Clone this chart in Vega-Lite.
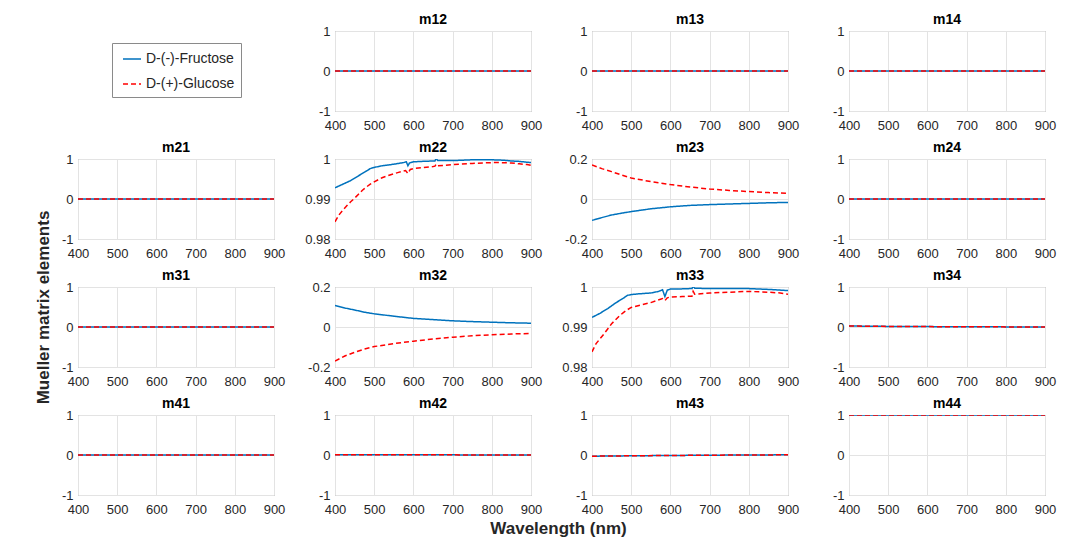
{
"$schema":"https://vega.github.io/schema/vega-lite/v6.json",
"autosize":{"type":"none"},
"padding":{"left":78,"top":31,"right":1002,"bottom":513},
"background":"#ffffff",
"bounds":"flush",
"columns":4,
"spacing":{"row":48,"column":61},
"data":{"values":[
{"p":"m12","w":400,"v":0,"s":"D-(-)-Fructose"},{"p":"m12","w":900,"v":0,"s":"D-(-)-Fructose"},
{"p":"m12","w":400,"v":0,"s":"D-(+)-Glucose"},{"p":"m12","w":900,"v":0,"s":"D-(+)-Glucose"},
{"p":"m13","w":400,"v":0,"s":"D-(-)-Fructose"},{"p":"m13","w":900,"v":0,"s":"D-(-)-Fructose"},
{"p":"m13","w":400,"v":0,"s":"D-(+)-Glucose"},{"p":"m13","w":900,"v":0,"s":"D-(+)-Glucose"},
{"p":"m14","w":400,"v":0,"s":"D-(-)-Fructose"},{"p":"m14","w":900,"v":0,"s":"D-(-)-Fructose"},
{"p":"m14","w":400,"v":0,"s":"D-(+)-Glucose"},{"p":"m14","w":900,"v":0,"s":"D-(+)-Glucose"},
{"p":"m21","w":400,"v":0,"s":"D-(-)-Fructose"},{"p":"m21","w":900,"v":0,"s":"D-(-)-Fructose"},
{"p":"m21","w":400,"v":0,"s":"D-(+)-Glucose"},{"p":"m21","w":900,"v":0,"s":"D-(+)-Glucose"},
{"p":"m24","w":400,"v":0,"s":"D-(-)-Fructose"},{"p":"m24","w":900,"v":0,"s":"D-(-)-Fructose"},
{"p":"m24","w":400,"v":0,"s":"D-(+)-Glucose"},{"p":"m24","w":900,"v":0,"s":"D-(+)-Glucose"},
{"p":"m31","w":400,"v":0,"s":"D-(-)-Fructose"},{"p":"m31","w":900,"v":0,"s":"D-(-)-Fructose"},
{"p":"m31","w":400,"v":0,"s":"D-(+)-Glucose"},{"p":"m31","w":900,"v":0,"s":"D-(+)-Glucose"},
{"p":"m41","w":400,"v":0,"s":"D-(-)-Fructose"},{"p":"m41","w":900,"v":0,"s":"D-(-)-Fructose"},
{"p":"m41","w":400,"v":0,"s":"D-(+)-Glucose"},{"p":"m41","w":900,"v":0,"s":"D-(+)-Glucose"},
{"p":"m42","w":400,"v":0.005,"s":"D-(-)-Fructose"},{"p":"m42","w":900,"v":0.002,"s":"D-(-)-Fructose"},
{"p":"m42","w":400,"v":0.005,"s":"D-(+)-Glucose"},{"p":"m42","w":900,"v":0.002,"s":"D-(+)-Glucose"},
{"p":"m44","w":400,"v":1,"s":"D-(-)-Fructose"},{"p":"m44","w":900,"v":1,"s":"D-(-)-Fructose"},
{"p":"m44","w":400,"v":1,"s":"D-(+)-Glucose"},{"p":"m44","w":900,"v":1,"s":"D-(+)-Glucose"},
{"p":"m34","w":400,"v":0.025,"s":"D-(-)-Fructose"},{"p":"m34","w":450,"v":0.02,"s":"D-(-)-Fructose"},{"p":"m34","w":500,"v":0.015,"s":"D-(-)-Fructose"},{"p":"m34","w":600,"v":0.01,"s":"D-(-)-Fructose"},{"p":"m34","w":700,"v":0.006,"s":"D-(-)-Fructose"},{"p":"m34","w":800,"v":0.003,"s":"D-(-)-Fructose"},{"p":"m34","w":900,"v":0.001,"s":"D-(-)-Fructose"},
{"p":"m34","w":400,"v":0.025,"s":"D-(+)-Glucose"},{"p":"m34","w":450,"v":0.02,"s":"D-(+)-Glucose"},{"p":"m34","w":500,"v":0.015,"s":"D-(+)-Glucose"},{"p":"m34","w":600,"v":0.01,"s":"D-(+)-Glucose"},{"p":"m34","w":700,"v":0.006,"s":"D-(+)-Glucose"},{"p":"m34","w":800,"v":0.003,"s":"D-(+)-Glucose"},{"p":"m34","w":900,"v":0.001,"s":"D-(+)-Glucose"},
{"p":"m43","w":400,"v":-0.03,"s":"D-(-)-Fructose"},{"p":"m43","w":500,"v":-0.02,"s":"D-(-)-Fructose"},{"p":"m43","w":600,"v":-0.012,"s":"D-(-)-Fructose"},{"p":"m43","w":700,"v":-0.005,"s":"D-(-)-Fructose"},{"p":"m43","w":800,"v":0,"s":"D-(-)-Fructose"},{"p":"m43","w":900,"v":0.005,"s":"D-(-)-Fructose"},
{"p":"m43","w":400,"v":-0.03,"s":"D-(+)-Glucose"},{"p":"m43","w":500,"v":-0.02,"s":"D-(+)-Glucose"},{"p":"m43","w":600,"v":-0.012,"s":"D-(+)-Glucose"},{"p":"m43","w":700,"v":-0.005,"s":"D-(+)-Glucose"},{"p":"m43","w":800,"v":0,"s":"D-(+)-Glucose"},{"p":"m43","w":900,"v":0.005,"s":"D-(+)-Glucose"},
{"p":"m22","w":400,"v":0.9928,"s":"D-(-)-Fructose"},{"p":"m22","w":420,"v":0.9937,"s":"D-(-)-Fructose"},{"p":"m22","w":440,"v":0.9946,"s":"D-(-)-Fructose"},{"p":"m22","w":460,"v":0.9958,"s":"D-(-)-Fructose"},{"p":"m22","w":480,"v":0.997,"s":"D-(-)-Fructose"},{"p":"m22","w":490,"v":0.9976,"s":"D-(-)-Fructose"},{"p":"m22","w":500,"v":0.9979,"s":"D-(-)-Fructose"},{"p":"m22","w":520,"v":0.9983,"s":"D-(-)-Fructose"},{"p":"m22","w":550,"v":0.9987,"s":"D-(-)-Fructose"},{"p":"m22","w":575,"v":0.9991,"s":"D-(-)-Fructose"},{"p":"m22","w":582,"v":0.9993,"s":"D-(-)-Fructose"},{"p":"m22","w":586,"v":0.9983,"s":"D-(-)-Fructose"},{"p":"m22","w":590,"v":0.999,"s":"D-(-)-Fructose"},{"p":"m22","w":600,"v":0.9993,"s":"D-(-)-Fructose"},{"p":"m22","w":620,"v":0.9994,"s":"D-(-)-Fructose"},{"p":"m22","w":650,"v":0.9995,"s":"D-(-)-Fructose"},{"p":"m22","w":655,"v":0.9995,"s":"D-(-)-Fructose"},{"p":"m22","w":658,"v":1.0002,"s":"D-(-)-Fructose"},{"p":"m22","w":662,"v":0.9996,"s":"D-(-)-Fructose"},{"p":"m22","w":700,"v":0.9996,"s":"D-(-)-Fructose"},{"p":"m22","w":750,"v":0.9998,"s":"D-(-)-Fructose"},{"p":"m22","w":800,"v":0.9998,"s":"D-(-)-Fructose"},{"p":"m22","w":830,"v":0.9997,"s":"D-(-)-Fructose"},{"p":"m22","w":850,"v":0.9995,"s":"D-(-)-Fructose"},{"p":"m22","w":870,"v":0.9994,"s":"D-(-)-Fructose"},{"p":"m22","w":900,"v":0.9991,"s":"D-(-)-Fructose"},
{"p":"m22","w":400,"v":0.9843,"s":"D-(+)-Glucose"},{"p":"m22","w":410,"v":0.986,"s":"D-(+)-Glucose"},{"p":"m22","w":420,"v":0.9872,"s":"D-(+)-Glucose"},{"p":"m22","w":430,"v":0.9883,"s":"D-(+)-Glucose"},{"p":"m22","w":440,"v":0.9893,"s":"D-(+)-Glucose"},{"p":"m22","w":450,"v":0.9902,"s":"D-(+)-Glucose"},{"p":"m22","w":460,"v":0.9912,"s":"D-(+)-Glucose"},{"p":"m22","w":470,"v":0.9922,"s":"D-(+)-Glucose"},{"p":"m22","w":480,"v":0.993,"s":"D-(+)-Glucose"},{"p":"m22","w":490,"v":0.9937,"s":"D-(+)-Glucose"},{"p":"m22","w":500,"v":0.9943,"s":"D-(+)-Glucose"},{"p":"m22","w":520,"v":0.9953,"s":"D-(+)-Glucose"},{"p":"m22","w":540,"v":0.996,"s":"D-(+)-Glucose"},{"p":"m22","w":560,"v":0.9966,"s":"D-(+)-Glucose"},{"p":"m22","w":580,"v":0.9971,"s":"D-(+)-Glucose"},{"p":"m22","w":586,"v":0.9964,"s":"D-(+)-Glucose"},{"p":"m22","w":592,"v":0.9974,"s":"D-(+)-Glucose"},{"p":"m22","w":600,"v":0.9976,"s":"D-(+)-Glucose"},{"p":"m22","w":620,"v":0.9978,"s":"D-(+)-Glucose"},{"p":"m22","w":650,"v":0.9981,"s":"D-(+)-Glucose"},{"p":"m22","w":655,"v":0.9982,"s":"D-(+)-Glucose"},{"p":"m22","w":658,"v":0.9987,"s":"D-(+)-Glucose"},{"p":"m22","w":662,"v":0.9983,"s":"D-(+)-Glucose"},{"p":"m22","w":700,"v":0.9986,"s":"D-(+)-Glucose"},{"p":"m22","w":750,"v":0.9989,"s":"D-(+)-Glucose"},{"p":"m22","w":800,"v":0.9991,"s":"D-(+)-Glucose"},{"p":"m22","w":820,"v":0.9991,"s":"D-(+)-Glucose"},{"p":"m22","w":850,"v":0.999,"s":"D-(+)-Glucose"},{"p":"m22","w":870,"v":0.9988,"s":"D-(+)-Glucose"},{"p":"m22","w":890,"v":0.9986,"s":"D-(+)-Glucose"},{"p":"m22","w":900,"v":0.9984,"s":"D-(+)-Glucose"},
{"p":"m33","w":400,"v":0.9924,"s":"D-(-)-Fructose"},{"p":"m33","w":420,"v":0.9934,"s":"D-(-)-Fructose"},{"p":"m33","w":440,"v":0.9946,"s":"D-(-)-Fructose"},{"p":"m33","w":460,"v":0.996,"s":"D-(-)-Fructose"},{"p":"m33","w":480,"v":0.9972,"s":"D-(-)-Fructose"},{"p":"m33","w":490,"v":0.9979,"s":"D-(-)-Fructose"},{"p":"m33","w":500,"v":0.9981,"s":"D-(-)-Fructose"},{"p":"m33","w":520,"v":0.9983,"s":"D-(-)-Fructose"},{"p":"m33","w":550,"v":0.9985,"s":"D-(-)-Fructose"},{"p":"m33","w":570,"v":0.9989,"s":"D-(-)-Fructose"},{"p":"m33","w":580,"v":0.9993,"s":"D-(-)-Fructose"},{"p":"m33","w":586,"v":0.9976,"s":"D-(-)-Fructose"},{"p":"m33","w":592,"v":0.9992,"s":"D-(-)-Fructose"},{"p":"m33","w":600,"v":0.9995,"s":"D-(-)-Fructose"},{"p":"m33","w":620,"v":0.9995,"s":"D-(-)-Fructose"},{"p":"m33","w":650,"v":0.9996,"s":"D-(-)-Fructose"},{"p":"m33","w":655,"v":0.9996,"s":"D-(-)-Fructose"},{"p":"m33","w":658,"v":1.0002,"s":"D-(-)-Fructose"},{"p":"m33","w":662,"v":0.9997,"s":"D-(-)-Fructose"},{"p":"m33","w":700,"v":0.9996,"s":"D-(-)-Fructose"},{"p":"m33","w":750,"v":0.9996,"s":"D-(-)-Fructose"},{"p":"m33","w":800,"v":0.9996,"s":"D-(-)-Fructose"},{"p":"m33","w":850,"v":0.9994,"s":"D-(-)-Fructose"},{"p":"m33","w":900,"v":0.9991,"s":"D-(-)-Fructose"},
{"p":"m33","w":400,"v":0.9838,"s":"D-(+)-Glucose"},{"p":"m33","w":410,"v":0.9858,"s":"D-(+)-Glucose"},{"p":"m33","w":420,"v":0.987,"s":"D-(+)-Glucose"},{"p":"m33","w":430,"v":0.9882,"s":"D-(+)-Glucose"},{"p":"m33","w":440,"v":0.9895,"s":"D-(+)-Glucose"},{"p":"m33","w":450,"v":0.9908,"s":"D-(+)-Glucose"},{"p":"m33","w":460,"v":0.9918,"s":"D-(+)-Glucose"},{"p":"m33","w":470,"v":0.9928,"s":"D-(+)-Glucose"},{"p":"m33","w":480,"v":0.9936,"s":"D-(+)-Glucose"},{"p":"m33","w":490,"v":0.9943,"s":"D-(+)-Glucose"},{"p":"m33","w":500,"v":0.9949,"s":"D-(+)-Glucose"},{"p":"m33","w":520,"v":0.9954,"s":"D-(+)-Glucose"},{"p":"m33","w":550,"v":0.9961,"s":"D-(+)-Glucose"},{"p":"m33","w":580,"v":0.9971,"s":"D-(+)-Glucose"},{"p":"m33","w":586,"v":0.9966,"s":"D-(+)-Glucose"},{"p":"m33","w":592,"v":0.9973,"s":"D-(+)-Glucose"},{"p":"m33","w":600,"v":0.9975,"s":"D-(+)-Glucose"},{"p":"m33","w":630,"v":0.9976,"s":"D-(+)-Glucose"},{"p":"m33","w":650,"v":0.9977,"s":"D-(+)-Glucose"},{"p":"m33","w":655,"v":0.9977,"s":"D-(+)-Glucose"},{"p":"m33","w":658,"v":0.9989,"s":"D-(+)-Glucose"},{"p":"m33","w":662,"v":0.9982,"s":"D-(+)-Glucose"},{"p":"m33","w":700,"v":0.9985,"s":"D-(+)-Glucose"},{"p":"m33","w":750,"v":0.9987,"s":"D-(+)-Glucose"},{"p":"m33","w":800,"v":0.9989,"s":"D-(+)-Glucose"},{"p":"m33","w":850,"v":0.9987,"s":"D-(+)-Glucose"},{"p":"m33","w":880,"v":0.9985,"s":"D-(+)-Glucose"},{"p":"m33","w":900,"v":0.9982,"s":"D-(+)-Glucose"},
{"p":"m23","w":400,"v":-0.107,"s":"D-(-)-Fructose"},{"p":"m23","w":425,"v":-0.093,"s":"D-(-)-Fructose"},{"p":"m23","w":450,"v":-0.08,"s":"D-(-)-Fructose"},{"p":"m23","w":475,"v":-0.071,"s":"D-(-)-Fructose"},{"p":"m23","w":500,"v":-0.063,"s":"D-(-)-Fructose"},{"p":"m23","w":550,"v":-0.049,"s":"D-(-)-Fructose"},{"p":"m23","w":600,"v":-0.039,"s":"D-(-)-Fructose"},{"p":"m23","w":650,"v":-0.032,"s":"D-(-)-Fructose"},{"p":"m23","w":700,"v":-0.028,"s":"D-(-)-Fructose"},{"p":"m23","w":750,"v":-0.025,"s":"D-(-)-Fructose"},{"p":"m23","w":800,"v":-0.022,"s":"D-(-)-Fructose"},{"p":"m23","w":850,"v":-0.019,"s":"D-(-)-Fructose"},{"p":"m23","w":900,"v":-0.017,"s":"D-(-)-Fructose"},
{"p":"m23","w":400,"v":0.17,"s":"D-(+)-Glucose"},{"p":"m23","w":425,"v":0.152,"s":"D-(+)-Glucose"},{"p":"m23","w":450,"v":0.137,"s":"D-(+)-Glucose"},{"p":"m23","w":475,"v":0.12,"s":"D-(+)-Glucose"},{"p":"m23","w":500,"v":0.105,"s":"D-(+)-Glucose"},{"p":"m23","w":550,"v":0.087,"s":"D-(+)-Glucose"},{"p":"m23","w":600,"v":0.072,"s":"D-(+)-Glucose"},{"p":"m23","w":650,"v":0.06,"s":"D-(+)-Glucose"},{"p":"m23","w":700,"v":0.05,"s":"D-(+)-Glucose"},{"p":"m23","w":750,"v":0.043,"s":"D-(+)-Glucose"},{"p":"m23","w":800,"v":0.037,"s":"D-(+)-Glucose"},{"p":"m23","w":850,"v":0.032,"s":"D-(+)-Glucose"},{"p":"m23","w":900,"v":0.028,"s":"D-(+)-Glucose"},
{"p":"m32","w":400,"v":0.107,"s":"D-(-)-Fructose"},{"p":"m32","w":425,"v":0.095,"s":"D-(-)-Fructose"},{"p":"m32","w":450,"v":0.085,"s":"D-(-)-Fructose"},{"p":"m32","w":475,"v":0.074,"s":"D-(-)-Fructose"},{"p":"m32","w":500,"v":0.066,"s":"D-(-)-Fructose"},{"p":"m32","w":550,"v":0.054,"s":"D-(-)-Fructose"},{"p":"m32","w":600,"v":0.043,"s":"D-(-)-Fructose"},{"p":"m32","w":650,"v":0.037,"s":"D-(-)-Fructose"},{"p":"m32","w":700,"v":0.031,"s":"D-(-)-Fructose"},{"p":"m32","w":750,"v":0.027,"s":"D-(-)-Fructose"},{"p":"m32","w":800,"v":0.024,"s":"D-(-)-Fructose"},{"p":"m32","w":850,"v":0.021,"s":"D-(-)-Fructose"},{"p":"m32","w":900,"v":0.019,"s":"D-(-)-Fructose"},
{"p":"m32","w":400,"v":-0.17,"s":"D-(+)-Glucose"},{"p":"m32","w":425,"v":-0.145,"s":"D-(+)-Glucose"},{"p":"m32","w":450,"v":-0.127,"s":"D-(+)-Glucose"},{"p":"m32","w":475,"v":-0.11,"s":"D-(+)-Glucose"},{"p":"m32","w":500,"v":-0.098,"s":"D-(+)-Glucose"},{"p":"m32","w":550,"v":-0.083,"s":"D-(+)-Glucose"},{"p":"m32","w":600,"v":-0.071,"s":"D-(+)-Glucose"},{"p":"m32","w":650,"v":-0.06,"s":"D-(+)-Glucose"},{"p":"m32","w":700,"v":-0.051,"s":"D-(+)-Glucose"},{"p":"m32","w":750,"v":-0.044,"s":"D-(+)-Glucose"},{"p":"m32","w":800,"v":-0.039,"s":"D-(+)-Glucose"},{"p":"m32","w":850,"v":-0.035,"s":"D-(+)-Glucose"},{"p":"m32","w":900,"v":-0.032,"s":"D-(+)-Glucose"}
]},
"concat":[
{"transform":[{"filter":"false"}],"mark":{"type":"point","opacity":0},"encoding":{"x":{"field":"w","type":"quantitative","axis":null},"y":{"field":"v","type":"quantitative","axis":null}},"view":{"stroke":null}},
{"title":"m12","transform":[{"filter":"datum.p=='m12'"}],"mark":{"type":"line","clip":true},"encoding":{"x":{"field":"w","type":"quantitative","title":null,"scale":{"domain":[400,900],"nice":false}},"y":{"field":"v","type":"quantitative","title":null,"scale":{"domain":[-1,1],"nice":false,"zero":false},"axis":{"values":[-1,0,1]}},"color":{"field":"s","type":"nominal","title":null,"scale":{"domain":["D-(-)-Fructose","D-(+)-Glucose"],"range":["#0072BD","#FF0000"]}},"strokeDash":{"field":"s","type":"nominal","title":null,"scale":{"domain":["D-(-)-Fructose","D-(+)-Glucose"],"range":[[1,0],[5,3]]}}}},
{"title":"m13","transform":[{"filter":"datum.p=='m13'"}],"mark":{"type":"line","clip":true},"encoding":{"x":{"field":"w","type":"quantitative","title":null,"scale":{"domain":[400,900],"nice":false}},"y":{"field":"v","type":"quantitative","title":null,"scale":{"domain":[-1,1],"nice":false,"zero":false},"axis":{"values":[-1,0,1]}},"color":{"field":"s","type":"nominal","title":null,"scale":{"domain":["D-(-)-Fructose","D-(+)-Glucose"],"range":["#0072BD","#FF0000"]}},"strokeDash":{"field":"s","type":"nominal","title":null,"scale":{"domain":["D-(-)-Fructose","D-(+)-Glucose"],"range":[[1,0],[5,3]]}}}},
{"title":"m14","transform":[{"filter":"datum.p=='m14'"}],"mark":{"type":"line","clip":true},"encoding":{"x":{"field":"w","type":"quantitative","title":null,"scale":{"domain":[400,900],"nice":false}},"y":{"field":"v","type":"quantitative","title":null,"scale":{"domain":[-1,1],"nice":false,"zero":false},"axis":{"values":[-1,0,1]}},"color":{"field":"s","type":"nominal","title":null,"scale":{"domain":["D-(-)-Fructose","D-(+)-Glucose"],"range":["#0072BD","#FF0000"]}},"strokeDash":{"field":"s","type":"nominal","title":null,"scale":{"domain":["D-(-)-Fructose","D-(+)-Glucose"],"range":[[1,0],[5,3]]}}}},
{"title":"m21","transform":[{"filter":"datum.p=='m21'"}],"mark":{"type":"line","clip":true},"encoding":{"x":{"field":"w","type":"quantitative","title":null,"scale":{"domain":[400,900],"nice":false}},"y":{"field":"v","type":"quantitative","title":"Mueller matrix elements","scale":{"domain":[-1,1],"nice":false,"zero":false},"axis":{"values":[-1,0,1],"titleX":-35,"titleY":148,"titleAngle":-90,"titleAlign":"center","titleBaseline":"middle"}},"color":{"field":"s","type":"nominal","title":null,"scale":{"domain":["D-(-)-Fructose","D-(+)-Glucose"],"range":["#0072BD","#FF0000"]}},"strokeDash":{"field":"s","type":"nominal","title":null,"scale":{"domain":["D-(-)-Fructose","D-(+)-Glucose"],"range":[[1,0],[5,3]]}}}},
{"title":"m22","transform":[{"filter":"datum.p=='m22'"}],"mark":{"type":"line","clip":true},"encoding":{"x":{"field":"w","type":"quantitative","title":null,"scale":{"domain":[400,900],"nice":false}},"y":{"field":"v","type":"quantitative","title":null,"scale":{"domain":[0.98,1],"nice":false,"zero":false},"axis":{"values":[0.98,0.99,1]}},"color":{"field":"s","type":"nominal","title":null,"scale":{"domain":["D-(-)-Fructose","D-(+)-Glucose"],"range":["#0072BD","#FF0000"]}},"strokeDash":{"field":"s","type":"nominal","title":null,"scale":{"domain":["D-(-)-Fructose","D-(+)-Glucose"],"range":[[1,0],[5,3]]}}}},
{"title":"m23","transform":[{"filter":"datum.p=='m23'"}],"mark":{"type":"line","clip":true},"encoding":{"x":{"field":"w","type":"quantitative","title":null,"scale":{"domain":[400,900],"nice":false}},"y":{"field":"v","type":"quantitative","title":null,"scale":{"domain":[-0.2,0.2],"nice":false,"zero":false},"axis":{"values":[-0.2,0,0.2]}},"color":{"field":"s","type":"nominal","title":null,"scale":{"domain":["D-(-)-Fructose","D-(+)-Glucose"],"range":["#0072BD","#FF0000"]}},"strokeDash":{"field":"s","type":"nominal","title":null,"scale":{"domain":["D-(-)-Fructose","D-(+)-Glucose"],"range":[[1,0],[5,3]]}}}},
{"title":"m24","transform":[{"filter":"datum.p=='m24'"}],"mark":{"type":"line","clip":true},"encoding":{"x":{"field":"w","type":"quantitative","title":null,"scale":{"domain":[400,900],"nice":false}},"y":{"field":"v","type":"quantitative","title":null,"scale":{"domain":[-1,1],"nice":false,"zero":false},"axis":{"values":[-1,0,1]}},"color":{"field":"s","type":"nominal","title":null,"scale":{"domain":["D-(-)-Fructose","D-(+)-Glucose"],"range":["#0072BD","#FF0000"]}},"strokeDash":{"field":"s","type":"nominal","title":null,"scale":{"domain":["D-(-)-Fructose","D-(+)-Glucose"],"range":[[1,0],[5,3]]}}}},
{"title":"m31","transform":[{"filter":"datum.p=='m31'"}],"mark":{"type":"line","clip":true},"encoding":{"x":{"field":"w","type":"quantitative","title":null,"scale":{"domain":[400,900],"nice":false}},"y":{"field":"v","type":"quantitative","title":null,"scale":{"domain":[-1,1],"nice":false,"zero":false},"axis":{"values":[-1,0,1]}},"color":{"field":"s","type":"nominal","title":null,"scale":{"domain":["D-(-)-Fructose","D-(+)-Glucose"],"range":["#0072BD","#FF0000"]}},"strokeDash":{"field":"s","type":"nominal","title":null,"scale":{"domain":["D-(-)-Fructose","D-(+)-Glucose"],"range":[[1,0],[5,3]]}}}},
{"title":"m32","transform":[{"filter":"datum.p=='m32'"}],"mark":{"type":"line","clip":true},"encoding":{"x":{"field":"w","type":"quantitative","title":null,"scale":{"domain":[400,900],"nice":false}},"y":{"field":"v","type":"quantitative","title":null,"scale":{"domain":[-0.2,0.2],"nice":false,"zero":false},"axis":{"values":[-0.2,0,0.2]}},"color":{"field":"s","type":"nominal","title":null,"scale":{"domain":["D-(-)-Fructose","D-(+)-Glucose"],"range":["#0072BD","#FF0000"]}},"strokeDash":{"field":"s","type":"nominal","title":null,"scale":{"domain":["D-(-)-Fructose","D-(+)-Glucose"],"range":[[1,0],[5,3]]}}}},
{"title":"m33","transform":[{"filter":"datum.p=='m33'"}],"mark":{"type":"line","clip":true},"encoding":{"x":{"field":"w","type":"quantitative","title":null,"scale":{"domain":[400,900],"nice":false}},"y":{"field":"v","type":"quantitative","title":null,"scale":{"domain":[0.98,1],"nice":false,"zero":false},"axis":{"values":[0.98,0.99,1]}},"color":{"field":"s","type":"nominal","title":null,"scale":{"domain":["D-(-)-Fructose","D-(+)-Glucose"],"range":["#0072BD","#FF0000"]}},"strokeDash":{"field":"s","type":"nominal","title":null,"scale":{"domain":["D-(-)-Fructose","D-(+)-Glucose"],"range":[[1,0],[5,3]]}}}},
{"title":"m34","transform":[{"filter":"datum.p=='m34'"}],"mark":{"type":"line","clip":true},"encoding":{"x":{"field":"w","type":"quantitative","title":null,"scale":{"domain":[400,900],"nice":false}},"y":{"field":"v","type":"quantitative","title":null,"scale":{"domain":[-1,1],"nice":false,"zero":false},"axis":{"values":[-1,0,1]}},"color":{"field":"s","type":"nominal","title":null,"scale":{"domain":["D-(-)-Fructose","D-(+)-Glucose"],"range":["#0072BD","#FF0000"]}},"strokeDash":{"field":"s","type":"nominal","title":null,"scale":{"domain":["D-(-)-Fructose","D-(+)-Glucose"],"range":[[1,0],[5,3]]}}}},
{"title":"m41","transform":[{"filter":"datum.p=='m41'"}],"mark":{"type":"line","clip":true},"encoding":{"x":{"field":"w","type":"quantitative","title":null,"scale":{"domain":[400,900],"nice":false}},"y":{"field":"v","type":"quantitative","title":null,"scale":{"domain":[-1,1],"nice":false,"zero":false},"axis":{"values":[-1,0,1]}},"color":{"field":"s","type":"nominal","title":null,"scale":{"domain":["D-(-)-Fructose","D-(+)-Glucose"],"range":["#0072BD","#FF0000"]}},"strokeDash":{"field":"s","type":"nominal","title":null,"scale":{"domain":["D-(-)-Fructose","D-(+)-Glucose"],"range":[[1,0],[5,3]]}}}},
{"title":"m42","transform":[{"filter":"datum.p=='m42'"}],"mark":{"type":"line","clip":true},"encoding":{"x":{"field":"w","type":"quantitative","title":"Wavelength (nm)","scale":{"domain":[400,900],"nice":false},"axis":{"titleX":223,"titleY":38,"titleAlign":"center","titleBaseline":"alphabetic","titleAngle":0}},"y":{"field":"v","type":"quantitative","title":null,"scale":{"domain":[-1,1],"nice":false,"zero":false},"axis":{"values":[-1,0,1]}},"color":{"field":"s","type":"nominal","title":null,"scale":{"domain":["D-(-)-Fructose","D-(+)-Glucose"],"range":["#0072BD","#FF0000"]}},"strokeDash":{"field":"s","type":"nominal","title":null,"scale":{"domain":["D-(-)-Fructose","D-(+)-Glucose"],"range":[[1,0],[5,3]]}}}},
{"title":"m43","transform":[{"filter":"datum.p=='m43'"}],"mark":{"type":"line","clip":true},"encoding":{"x":{"field":"w","type":"quantitative","title":null,"scale":{"domain":[400,900],"nice":false}},"y":{"field":"v","type":"quantitative","title":null,"scale":{"domain":[-1,1],"nice":false,"zero":false},"axis":{"values":[-1,0,1]}},"color":{"field":"s","type":"nominal","title":null,"scale":{"domain":["D-(-)-Fructose","D-(+)-Glucose"],"range":["#0072BD","#FF0000"]}},"strokeDash":{"field":"s","type":"nominal","title":null,"scale":{"domain":["D-(-)-Fructose","D-(+)-Glucose"],"range":[[1,0],[5,3]]}}}},
{"title":"m44","transform":[{"filter":"datum.p=='m44'"}],"mark":{"type":"line","clip":true},"encoding":{"x":{"field":"w","type":"quantitative","title":null,"scale":{"domain":[400,900],"nice":false}},"y":{"field":"v","type":"quantitative","title":null,"scale":{"domain":[-1,1],"nice":false,"zero":false},"axis":{"values":[-1,0,1]}},"color":{"field":"s","type":"nominal","title":null,"scale":{"domain":["D-(-)-Fructose","D-(+)-Glucose"],"range":["#0072BD","#FF0000"]}},"strokeDash":{"field":"s","type":"nominal","title":null,"scale":{"domain":["D-(-)-Fructose","D-(+)-Glucose"],"range":[[1,0],[5,3]]}}}}
],
"config":{
"locale":{"number":{"decimal":".","thousands":",","grouping":[3],"currency":["$",""],"minus":"-"}},
"font":"Liberation Sans",
"view":{"continuousWidth":196,"continuousHeight":80,"stroke":"#8a8a8a","strokeWidth":1},
"line":{"strokeWidth":1.5},
"title":{"font":"Liberation Sans","fontSize":14,"fontWeight":"bold","color":"#000000","offset":-2,"anchor":"middle"},
"axis":{"domain":false,"ticks":false,"grid":true,"gridColor":"#e3e3e3","gridWidth":1,"labelFont":"Liberation Sans","labelFontSize":13,"labelColor":"#262626","labelPadding":5,"labelFlush":false,"labelOverlap":false,"titleFont":"Liberation Sans","titleFontSize":17,"titleFontWeight":"bold","titleColor":"#262626"},
"axisX":{"labelPadding":8},
"axisY":{"format":"~g"},
"legend":{"orient":"none","legendX":34,"legendY":12,"labelFont":"Liberation Sans","labelFontSize":14,"labelColor":"#262626","strokeColor":"#8a8a8a","fillColor":"#ffffff","padding":6,"rowPadding":8,"labelOffset":4,"symbolOffset":4,"symbolType":"stroke","symbolSize":324,"symbolStrokeWidth":1.5}
}
}
